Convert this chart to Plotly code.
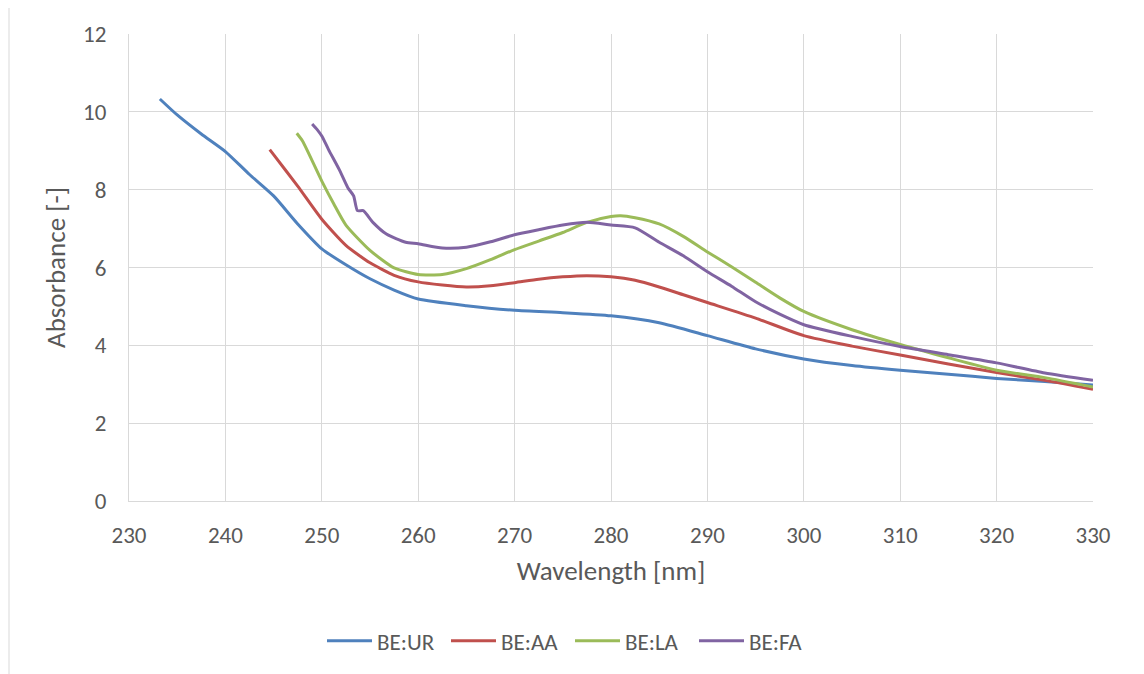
import plotly.graph_objects as go

# ---- data ----
ur_x = [233.2, 235, 237.5, 240, 242.5, 245, 247.5, 250, 252.5, 255, 257.5, 260, 265, 270, 275, 280, 285, 290, 295, 300, 305, 310, 315, 320, 325, 330]
ur_y = [10.33, 9.92, 9.43, 8.98, 8.39, 7.84, 7.12, 6.48, 6.07, 5.71, 5.42, 5.19, 5.02, 4.90, 4.84, 4.76, 4.58, 4.25, 3.91, 3.65, 3.48, 3.36, 3.26, 3.15, 3.07, 2.98]

aa_x = [244.6, 245, 247.5, 250, 252.5, 255, 257.5, 260, 262.5, 265, 267.5, 270, 272.5, 275, 277.5, 280, 282.5, 285, 287.5, 290, 295, 300, 305, 310, 315, 320, 325, 330]
aa_y = [9.03, 8.90, 8.09, 7.24, 6.57, 6.12, 5.80, 5.63, 5.55, 5.50, 5.53, 5.61, 5.70, 5.76, 5.79, 5.76, 5.67, 5.50, 5.30, 5.10, 4.70, 4.25, 3.98, 3.75, 3.52, 3.30, 3.10, 2.87]

la_x = [247.4, 248, 250, 251.25, 252.5, 255, 257.5, 260, 262.5, 265, 267.5, 270, 272.5, 275, 277.5, 280, 281, 282.5, 285, 287.5, 290, 292.5, 295, 297.5, 300, 305, 310, 315, 320, 325, 330]
la_y = [9.45, 9.25, 8.22, 7.63, 7.09, 6.44, 5.99, 5.82, 5.82, 5.97, 6.20, 6.46, 6.68, 6.90, 7.16, 7.31, 7.33, 7.28, 7.12, 6.80, 6.40, 6.02, 5.62, 5.22, 4.87, 4.40, 4.02, 3.68, 3.36, 3.17, 2.93]

fa_x = [249.0, 249.5, 250, 250.7, 251.8, 252.7, 253.3, 253.7, 254.3, 255.3, 256.7, 258.7, 260, 262.5, 265, 267.5, 270, 272.5, 275, 277.5, 280, 282.5, 285, 287.5, 290, 292.5, 295, 297.5, 300, 305, 310, 315, 320, 325, 330]
fa_y = [9.69, 9.55, 9.38, 9.03, 8.52, 8.05, 7.84, 7.46, 7.46, 7.16, 6.86, 6.65, 6.61, 6.50, 6.52, 6.66, 6.84, 6.97, 7.09, 7.16, 7.09, 7.02, 6.65, 6.30, 5.89, 5.52, 5.12, 4.80, 4.53, 4.23, 3.97, 3.76, 3.55, 3.29, 3.10]

series_names = ["BE:UR", "BE:AA", "BE:LA", "BE:FA"]
series_colors = ["#4F81BD", "#C0504D", "#9BBB59", "#8064A2"]

x_ticks = [230, 240, 250, 260, 270, 280, 290, 300, 310, 320, 330]
y_ticks = [0, 2, 4, 6, 8, 10, 12]

FONT = "Calibri, Carlito, Lato, sans-serif"
GREY = "#595959"

fig = go.Figure()
for name, color, xs, ys in zip(series_names, series_colors,
                               [ur_x, aa_x, la_x, fa_x], [ur_y, aa_y, la_y, fa_y]):
    fig.add_trace(go.Scatter(x=xs, y=ys, mode="lines", name=name,
                             line=dict(color=color, width=3, shape="spline", smoothing=0.6)))

# page has an 8px body margin, so figure coords = screen coords - 8
OFF = 8
W, H = 1144, 674
L, R, T, B = 129 - OFF, 1093 - OFF, 30 - OFF, 501 - OFF
fig.update_layout(
    width=W, height=H,
    margin=dict(l=L, r=W - R, t=T, b=H - B),
    paper_bgcolor="white", plot_bgcolor="white",
    font=dict(family=FONT, color=GREY, size=23),
    showlegend=True,
    legend=dict(orientation="h", x=(570 - 129) / (1093 - 129), xanchor="center",
                y=(B - (642 - OFF)) / (B - T), yanchor="middle",
                font=dict(size=23, color=GREY), itemwidth=45, tracegroupgap=0,
                entrywidth=64, entrywidthmode="pixels"),
    xaxis=dict(range=[230, 330], tickvals=x_ticks, showgrid=True, gridcolor="#D9D9D9", gridwidth=1,
               zeroline=False, showline=True, linecolor="#D9D9D9", linewidth=1, ticks="",
               ticklabelstandoff=13, tickfont=dict(size=23, color=GREY),
               title=dict(text="Wavelength [nm]", font=dict(size=27, color=GREY), standoff=13)),
    yaxis=dict(range=[0, 12], tickvals=y_ticks, showgrid=True, gridcolor="#D9D9D9", gridwidth=1,
               zeroline=False, showline=True, linecolor="#D9D9D9", linewidth=1, ticks="",
               ticklabelstandoff=17, tickfont=dict(size=23, color=GREY),
               title=dict(text="Absorbance [-]", font=dict(size=27, color=GREY), standoff=9)),
)

# outer chart border
fig.add_shape(type="rect", xref="paper", yref="paper",
              x0=(9 - 129) / (1093 - 129), x1=(1142 - 129) / (1093 - 129),
              y0=(501 - 700) / (501 - 30), y1=(501 - 2) / (501 - 30),
              line=dict(color="#D9D9D9", width=1), fillcolor="rgba(0,0,0,0)", layer="below")

fig.write_html("out.html")
